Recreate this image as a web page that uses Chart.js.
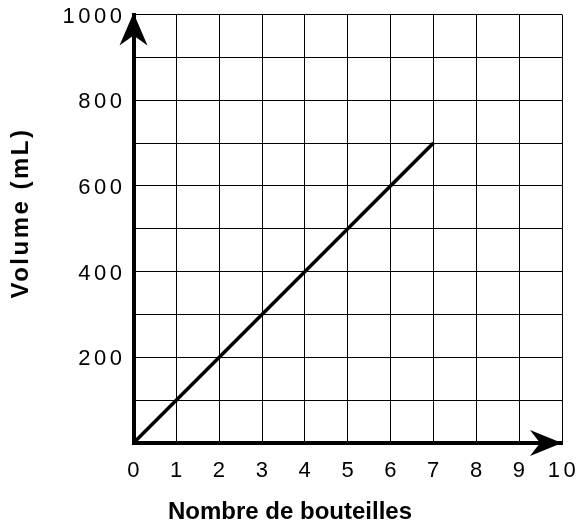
<!DOCTYPE html>
<html>
<head>
<meta charset="utf-8">
<script src="https://cdn.jsdelivr.net/npm/chart.js@4.4.1/dist/chart.umd.min.js"></script>
<style>
  html, body { margin: 0; padding: 0; background: #fff; }
  #wrap { width: 577px; height: 527px; }
</style>
</head>
<body>
<div id="wrap"><canvas id="c" width="577" height="527"></canvas></div>
<script>
// Data
const bottles = [0, 7];
const volumes = [0, 700];
const xTickValues = [0, 1, 2, 3, 4, 5, 6, 7, 8, 9, 10];
const yLabeledTicks = [200, 400, 600, 800, 1000];
const xTitle = 'Nombre de bouteilles';
const yTitle = 'Volume (mL)';

const FONT = "'Liberation Sans', Arial, Helvetica, sans-serif";

const spacingPlugin = {
  id: 'tickSpacing',
  beforeDraw(chart) { chart.ctx.letterSpacing = '3.5px'; },
  afterDraw(chart) { chart.ctx.letterSpacing = '0px'; }
};

const decorPlugin = {
  id: 'axisDecor',
  afterDatasetsDraw(chart) {
    const { ctx, scales: { x, y } } = chart;
    const x0 = x.getPixelForValue(0);
    const y0 = y.getPixelForValue(0);
    const xEnd = x.getPixelForValue(10);
    const yEnd = y.getPixelForValue(1000);
    ctx.save();
    ctx.fillStyle = '#000';
    // up arrow
    ctx.beginPath();
    ctx.moveTo(x0, yEnd - 1.5);
    ctx.lineTo(x0 + 14, yEnd + 31);
    ctx.lineTo(x0, yEnd + 21);
    ctx.lineTo(x0 - 14, yEnd + 31);
    ctx.closePath();
    ctx.fill();
    // right arrow
    ctx.beginPath();
    ctx.moveTo(xEnd, y0);
    ctx.lineTo(xEnd - 32, y0 - 13);
    ctx.lineTo(xEnd - 22, y0);
    ctx.lineTo(xEnd - 32, y0 + 13);
    ctx.closePath();
    ctx.fill();
    ctx.restore();
  },
  afterDraw(chart) {
    const { ctx } = chart;
    ctx.save();
    ctx.fillStyle = '#000';
    ctx.textAlign = 'center';
    ctx.textBaseline = 'middle';
    ctx.font = "bold 24px " + FONT;
    ctx.letterSpacing = '0px';
    ctx.fillText(xTitle, 290, 512.5);
    ctx.translate(21, 213);
    ctx.rotate(-Math.PI / 2);
    ctx.letterSpacing = '2.5px';
    ctx.fillText(yTitle, 0, 0);
    ctx.restore();
  }
};

new Chart(document.getElementById('c'), {
  type: 'scatter',
  data: {
    datasets: [{
      data: bottles.map((b, i) => ({ x: b, y: volumes[i] })),
      showLine: true,
      borderColor: '#000',
      borderWidth: 3.5,
      pointRadius: 0,
      fill: false
    }]
  },
  options: {
    responsive: false,
    animation: false,
    layout: { padding: { top: 14.5, right: 15, left: 0, bottom: 0 } },
    plugins: {
      legend: { display: false },
      tooltip: { enabled: false },
      title: { display: false }
    },
    scales: {
      x: {
        type: 'linear',
        min: 0, max: 10,
        afterBuildTicks(scale) { scale.ticks = xTickValues.map(v => ({ value: v })); },
        afterFit(scale) { scale.height = 84; scale.paddingLeft = 0; scale.paddingRight = 0; },
        grid: { color: '#000', lineWidth: 1, drawTicks: false },
        border: { color: '#000', width: 4 },
        ticks: {
          color: '#000', padding: 15,
          font: { family: FONT, size: 22 },
          labelOffset: 1.5,
          maxRotation: 0, autoSkip: false
        }
      },
      y: {
        type: 'linear',
        min: 0, max: 1000,
        ticks: {
          stepSize: 100,
          color: '#000', padding: 8,
          font: { family: FONT, size: 22 },
          labelOffset: 2,
          autoSkip: false,
          callback: (v) => yLabeledTicks.includes(v) ? String(v) : ''
        },
        afterFit(scale) { scale.width = 133.5; scale.paddingTop = 0; scale.paddingBottom = 0; },
        grid: { color: '#000', lineWidth: 1, drawTicks: false },
        border: { color: '#000', width: 4 }
      }
    }
  },
  plugins: [spacingPlugin, decorPlugin]
});
</script>
</body>
</html>
